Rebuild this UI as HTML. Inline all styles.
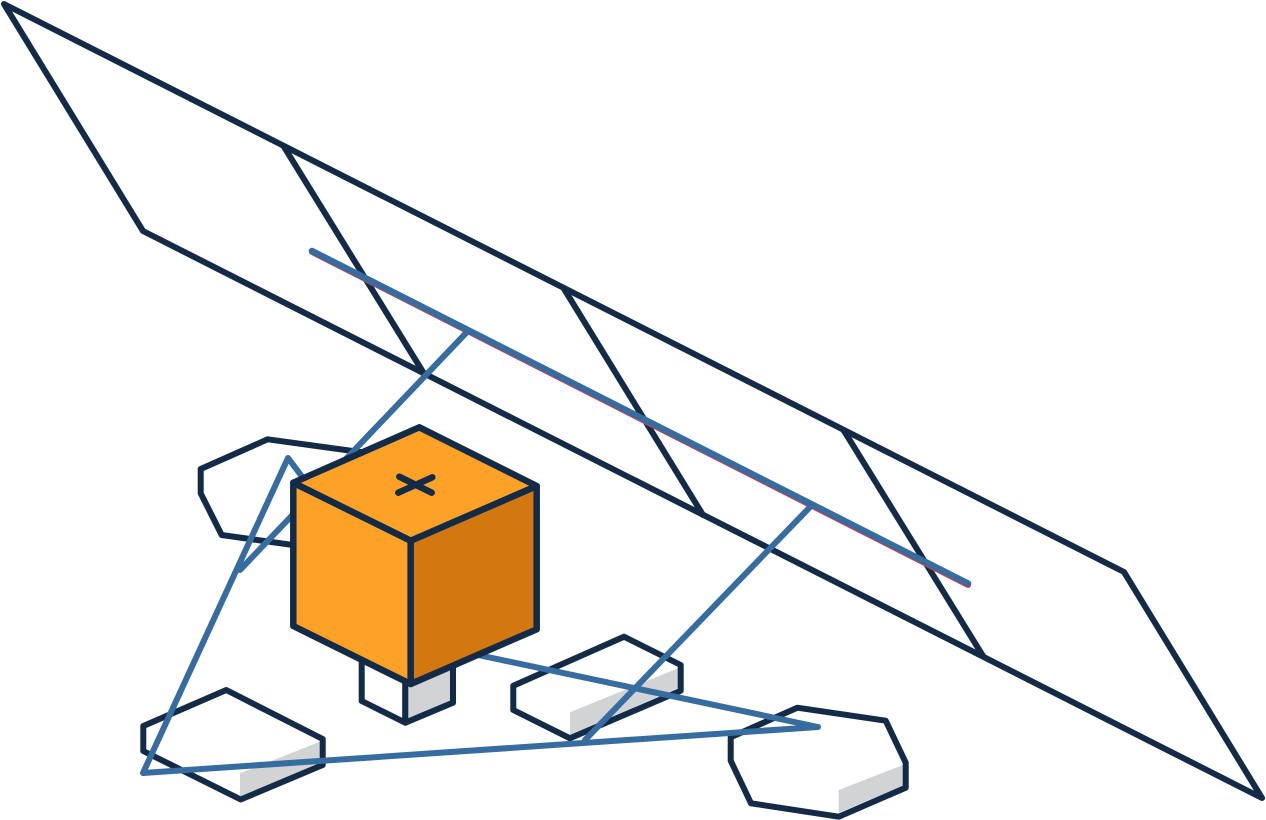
<!DOCTYPE html>
<html>
<head>
<meta charset="utf-8">
<style>
html,body{margin:0;padding:0;background:#fff;width:1266px;height:820px;overflow:hidden}
svg{display:block}
</style>
</head>
<body>
<svg width="1266" height="820" viewBox="0 0 1266 820" xmlns="http://www.w3.org/2000/svg">
<rect width="1266" height="820" fill="#fff"/>
<g fill="none" stroke="#132b47" stroke-width="6" stroke-linejoin="round" stroke-linecap="round">
  <!-- plane -->
  <polygon points="4,4 1124,572 1262,798 143,231"/>
  <line x1="283.5" y1="146" x2="423" y2="372"/>
  <line x1="563.5" y1="288" x2="703" y2="515"/>
  <line x1="843.5" y1="430" x2="983" y2="656"/>
  <!-- hexagons -->
  <polygon points="267.7,439.3 200.7,469 200.7,493.3 221.7,535 300,546 360,452"/>
  <polygon points="240,773.3 320,741.7 320,765 240,796.7" fill="#d1d3d4" stroke="none"/>
  <polygon points="226.3,690 143.3,726 143.3,751 240.7,799.5 322.7,765 322.7,739"/>
  <polygon points="570,712.3 678,668.3 678,688 570,735" fill="#d1d3d4" stroke="none"/>
  <polygon points="624,636.7 513.3,685.7 513.3,710 570,738.3 680.7,690.7 680.7,665"/>
  <polygon points="838.7,790 903,765 903,785.7 838.7,812.7" fill="#d1d3d4" stroke="none"/>
  <polygon points="797.3,707.7 730.7,737.3 730.7,760.7 751,803.3 838.7,816.7 905.7,787.7 905.7,762.7 885.7,720.7"/>
</g>
<!-- connector lines -->
<line x1="312" y1="252" x2="968" y2="585" stroke="#e0393e" stroke-width="6" stroke-linecap="round"/>
<g fill="none" stroke="#366ca0" stroke-linejoin="round" stroke-linecap="round">
  <line x1="312" y1="251" x2="968" y2="583.5" stroke-width="6.5"/>
  <line x1="467" y1="332" x2="240" y2="570" stroke-width="6"/>
  <line x1="811" y1="506" x2="585" y2="740" stroke-width="6"/>
  <polygon points="288,458 143,773 818,727 478,655 425,640" stroke-width="6"/>
</g>
<!-- support block -->
<g stroke="#132b47" stroke-width="6" stroke-linejoin="round" stroke-linecap="round">
  <polygon points="361.7,650 405.3,670 405.3,722.7 361.7,701" fill="#fff"/>
  <polygon points="405.3,670 453,650 453,702.7 405.3,722.7" fill="#d1d3d4"/>
</g>
<!-- cube -->
<g stroke="#132b47" stroke-width="6.5" stroke-linejoin="round" stroke-linecap="round">
  <polygon points="293.3,482.7 410.7,540.7 410.7,684 293.3,626" fill="#fea127"/>
  <polygon points="410.7,540.7 536.7,486 536.7,629.3 410.7,684" fill="#d37711"/>
  <polygon points="419.3,427.3 536.7,486 410.7,540.7 293.3,482.7" fill="#fea127"/>
  <line x1="399.3" y1="476.7" x2="431.7" y2="492.7"/>
  <line x1="398.3" y1="492.7" x2="432.3" y2="477.3"/>
</g>
</svg>
</body>
</html>
